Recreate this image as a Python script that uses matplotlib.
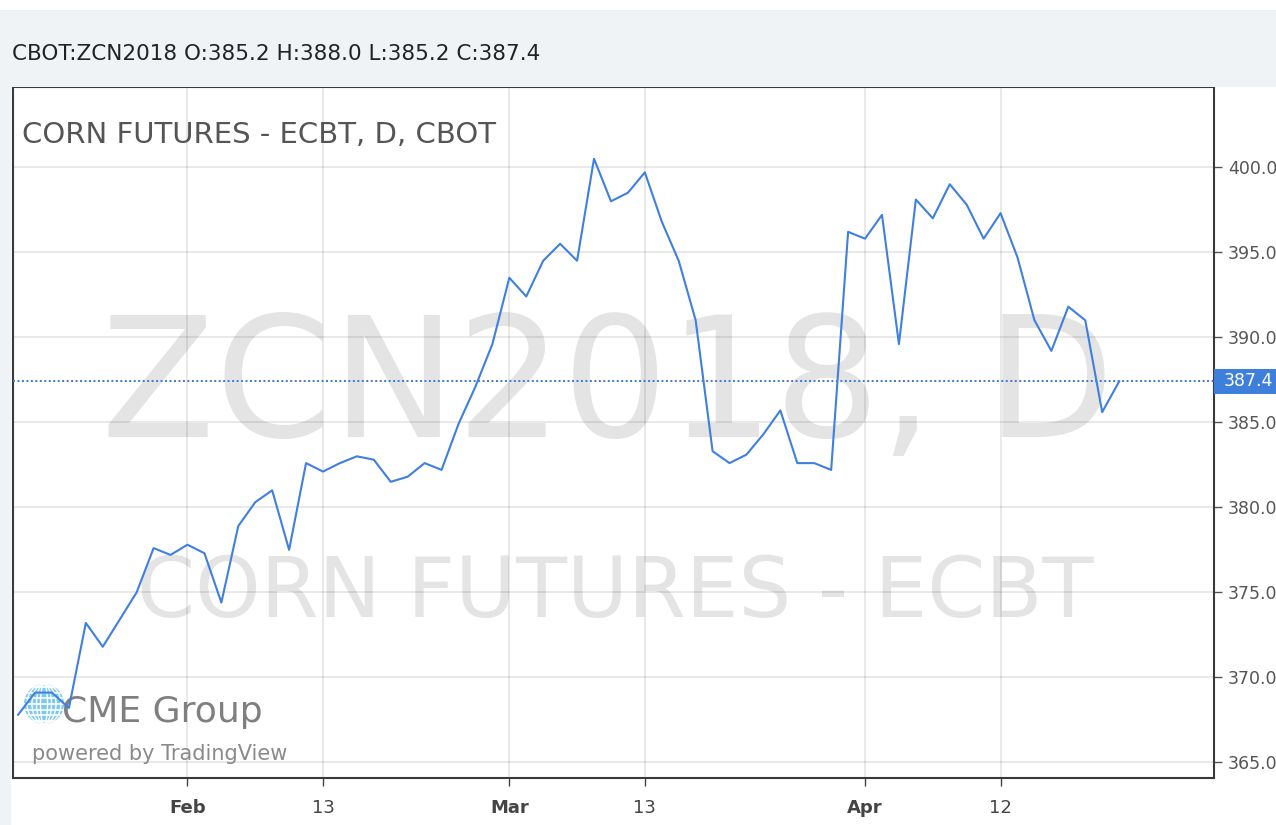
import matplotlib
matplotlib.use("Agg")
import matplotlib.pyplot as plt
from matplotlib.patches import Rectangle, Circle, Ellipse
import matplotlib.transforms as mtrans

# ZCN2018 daily closes, one value per trading day (Jan 18 .. Apr 23, 2018)
close = [367.8, 369.1, 369.1, 368.2, 373.2, 371.8, 373.4, 375.0, 377.6, 377.2,
         377.8, 377.3, 374.4, 378.9, 380.3, 381.0, 377.5, 382.6, 382.1, 382.6,
         383.0, 382.8, 381.5, 381.8, 382.6, 382.2, 384.9, 387.1, 389.6, 393.5,
         392.4, 394.5, 395.5, 394.5, 400.5, 398.0, 398.5, 399.7, 396.8, 394.5,
         391.0, 383.3, 382.6, 383.1, 384.3, 385.7, 382.6, 382.6, 382.2, 396.2,
         395.8, 397.2, 389.6, 398.1, 397.0, 399.0, 397.8, 395.8, 397.3, 394.7,
         391.0, 389.2, 391.8, 391.0, 385.6, 387.4]
last_close = 387.4

# trading-day positions of the date ticks
tick_pos = [10, 18, 29, 37, 50, 58]
tick_labels = ['Feb', '13', 'Mar', '13', 'Apr', '12']
tick_bold = [True, False, True, False, True, False]
price_ticks = [365, 370, 375, 380, 385, 390, 395, 400]

plt.rcParams['font.family'] = ['DejaVu Sans']

W, H = 1276, 825
fig = plt.figure(figsize=(W / 100, H / 100), dpi=100, facecolor='white')

def fx(px):
    return px / W

def fy(py):
    return 1 - py / H

# header band and left strip
fig.patches.append(Rectangle((0, fy(87)), 1, fy(10) - fy(87), transform=fig.transFigure,
                             fc='#f0f3f6', ec='none', zorder=0))
fig.patches.append(Rectangle((0, 0), fx(11), fy(87), transform=fig.transFigure,
                             fc='#f0f3f6', ec='none', zorder=0))
fig.text(fx(12), fy(60), 'CBOT:ZCN2018 O:385.2 H:388.0 L:385.2 C:387.4',
         fontsize=15.5, color='#222222', va='baseline')

ax = fig.add_axes([fx(13), 1 - 778 / H, fx(1214 - 13), (778 - 87) / H])
ax.set_facecolor('white')

# watermark
ax.text(fx(608), fy(437), 'ZCN2018, D', transform=fig.transFigure, fontsize=120,
        color='#e4e4e4', ha='center', va='baseline', zorder=0.2)
ax.text(fx(615), fy(617), 'CORN FUTURES - ECBT', transform=fig.transFigure, fontsize=60,
        color='#e4e4e4', ha='center', va='baseline', zorder=0.2)

ax.text(fx(22), fy(143), 'CORN FUTURES - ECBT, D, CBOT', transform=fig.transFigure,
        fontsize=21, color='#555555', va='baseline', zorder=3)

# CME logo
inch = fig.dpi_scale_trans
gx, gy, r = 0.44, (H - 704) / 100, 0.2
globe = Circle((gx, gy), r, transform=inch, fc='#7cc9ee', ec='none', zorder=1)
ax.add_patch(globe)
for k in range(-3, 4):
    yy = gy + k * r / 3.6
    ln, = ax.plot([gx - r, gx + r], [yy, yy], transform=inch, color='white', lw=1.2, zorder=1.1)
    ln.set_clip_path(globe)
for w in [0.35, 0.75, 1.2, 1.7]:
    e = Ellipse((gx, gy), w * r, 2 * r, transform=inch, fc='none', ec='white', lw=1.0, zorder=1.1)
    ax.add_patch(e)
    e.set_clip_path(globe)
ax.text(fx(62), fy(722), 'CME Group', transform=fig.transFigure, fontsize=26,
        color='#7f7f7f', va='baseline', zorder=1.2)
ax.text(fx(32), fy(760), 'powered by TradingView', transform=fig.transFigure, fontsize=15,
        color='#8a8a8a', va='baseline', zorder=1.2)

x = list(range(len(close)))
ax.plot(x, close, color='#3f7fe0', lw=1.5, zorder=4)
ax.axhline(last_close, color='#3c78d8', lw=1.4, linestyle=(0, (1, 1.3)), zorder=3)

ax.set_xlim(-0.3, 70.6)
ax.set_ylim(364.08, 404.72)

ax.set_xticks(tick_pos)
ax.set_xticklabels(tick_labels)
for lab, b in zip(ax.get_xticklabels(), tick_bold):
    lab.set_fontweight('bold' if b else 'normal')
ax.tick_params(axis='x', direction='out', length=6, width=1, color='#444444',
               labelcolor='#444444', labelsize=13, pad=9)

ax.yaxis.tick_right()
ax.set_yticks(price_ticks)
ax.set_yticklabels(['%.1f' % v for v in price_ticks])
ax.tick_params(axis='y', direction='out', length=6, width=1, color='#555555',
               labelcolor='#555555', labelsize=12.5, pad=4)

ax.set_axisbelow(True)
ax.grid(True, color='#000000', alpha=0.1, lw=1.2)

for s in ax.spines.values():
    s.set_color('#3a3a3a')
    s.set_linewidth(1.5)

# last price marker on the right scale
lbl_tr = mtrans.blended_transform_factory(ax.transAxes, ax.transData)
half = 12.5 / 17.0
ax.add_patch(Rectangle((1.0, last_close - half), 62 / 1201, 2 * half, transform=lbl_tr,
                       fc='#3d7fdb', ec='none', clip_on=False, zorder=5))
ax.text(1.0 + 10 / 1201, last_close, '%.1f' % last_close, transform=lbl_tr, fontsize=12.5,
        color='white', va='center', ha='left', clip_on=False, zorder=6)

fig.savefig('out.png', dpi=100, facecolor=fig.get_facecolor())
